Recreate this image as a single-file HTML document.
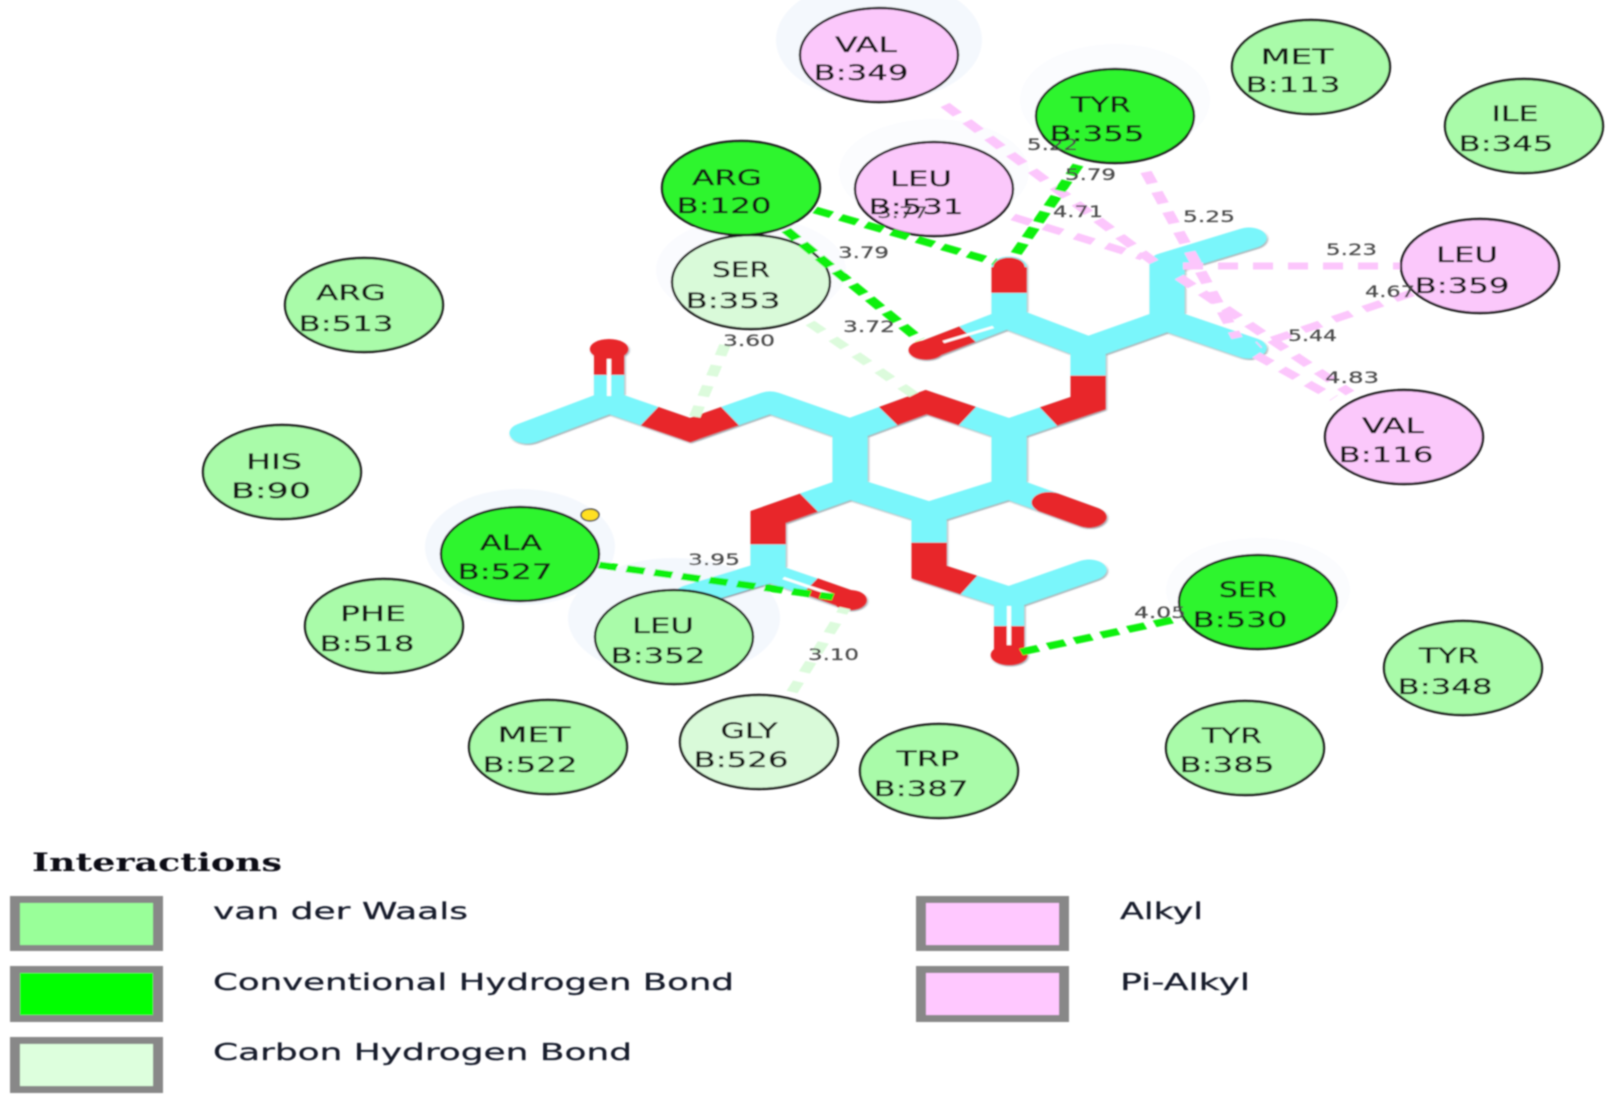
<!DOCTYPE html>
<html><head><meta charset="utf-8"><style>
html,body{margin:0;padding:0;background:#fff}
svg{display:block}
.l{font-family:"DejaVu Sans","Liberation Sans",sans-serif;font-size:21.5px;fill:#141414;stroke:#141414;stroke-width:.3;text-anchor:middle}
.d{font-family:"DejaVu Sans","Liberation Sans",sans-serif;font-size:16px;fill:#4a4a4a;stroke:#4a4a4a;stroke-width:.2}
.t{font-family:"DejaVu Sans","Liberation Sans",sans-serif;font-size:23px;fill:#141a2a;stroke:#141a2a;stroke-width:.25}
.vdw{fill:#a9fba9;stroke:#1a1a1a;stroke-width:2.4}
.hb{fill:#2df52d;stroke:#1a1a1a;stroke-width:2.4}
.ch{fill:#d9fad9;stroke:#1a1a1a;stroke-width:2.4}
.al{fill:#fbc8fb;stroke:#1a1a1a;stroke-width:2.4}
.g{stroke:#0cf00c;stroke-width:7;stroke-dasharray:11 6;fill:none}
.p{stroke:#fcc6fc;stroke-width:7;stroke-dasharray:12 9;fill:none}
.c{stroke:#dcfbdc;stroke-width:7;stroke-dasharray:11 10;fill:none}
</style></head><body>
<svg xmlns="http://www.w3.org/2000/svg" width="1609" height="1102" viewBox="0 0 1609 1102">
<defs>
<filter id="b" x="-2%" y="-2%" width="104%" height="104%"><feGaussianBlur stdDeviation="0.7"/></filter>
<filter id="s" x="-5%" y="-5%" width="110%" height="110%"><feDropShadow dx="0.6" dy="1.2" stdDeviation="0.6" flood-color="#203040" flood-opacity="0.55"/></filter>
</defs>
<rect width="1609" height="1102" fill="#fff"/>
<g filter="url(#b)">
<!-- halos -->
<g fill="#f4f8fd">
<ellipse cx="879" cy="40" rx="103" ry="62"/>
<ellipse cx="520" cy="547" rx="95" ry="58"/>
<ellipse cx="674" cy="618" rx="106" ry="60"/>
<ellipse cx="1115" cy="100" rx="95" ry="56" fill="#fbfcfe"/>
<ellipse cx="934" cy="172" rx="95" ry="53" fill="#fbfcfe"/>
<ellipse cx="751" cy="270" rx="95" ry="53" fill="#fafbfe"/>
<ellipse cx="1258" cy="590" rx="92" ry="52" fill="#fbfcfe"/>
</g>
<!-- molecule -->
<g transform="scale(1.6667,1)" fill="none" stroke-width="21" stroke-linecap="round" stroke-linejoin="round" filter="url(#s)">
<g stroke="#7af6fb">
<path d="M316.2 433L365.4 402L414 430L462 402L510 430L555.6 402L605.4 430L652.8 403L652.8 348L605.4 318L605.4 267"/>
<path d="M365.4 402L365.4 352" stroke-width="18"/>
<path d="M605.4 318L555.6 350" stroke-width="18"/>
<path d="M652.8 348L700.2 320L700.2 263L749.4 238"/>
<path d="M700.2 320L749.4 348"/>
<path d="M510 430L510 488L557.4 513L605.4 488L605.4 430"/>
<path d="M605.4 488L653.4 517"/>
<path d="M510 488L460.8 517L460.8 572L415.2 595"/>
<path d="M460.8 572L510 600" stroke-width="18"/>
<path d="M557.4 513L557.4 572L605.4 598L653.4 570"/>
<path d="M605.4 598L605.4 655" stroke-width="18"/>
</g>
<g stroke="#e8282a" stroke-linecap="butt" stroke-linejoin="miter">
<path d="M389.7 416L414 430L438 416"/>
<path d="M532.8 416L555.6 402L580.5 416"/>
<path d="M629 416.5L652.8 403L652.8 375.5"/>
<path d="M485.4 502.5L460.8 517L460.8 544.5"/>
<path d="M557.4 542.5L557.4 572L581.4 585"/>
</g>
<g stroke="#e8282a">
<path d="M629.4 502.5L653.4 517"/>
<path d="M605.4 293L605.4 267" stroke-linecap="butt"/>
<path d="M605.4 293L605.4 267" stroke-width="19"/>
<path d="M580.5 334L555.6 350" stroke-width="18" stroke-linecap="butt"/>
<path d="M365.4 375L365.4 352" stroke-width="18" stroke-linecap="butt"/>
<path d="M486 586L510 600" stroke-width="18" stroke-linecap="butt"/>
<path d="M605.4 626L605.4 655" stroke-width="18" stroke-linecap="butt"/>
</g>
<g stroke="#7af6fb" stroke-linecap="butt">
<path d="M605.4 318L605.4 293"/>
</g>
<g stroke="#fff" stroke-width="2.6" stroke-linecap="butt">
<path d="M365.4 396L365.4 358"/>
<path d="M605.4 606L605.4 648"/>
<path d="M566 342L596 327"/>
<path d="M470 578L500 595"/>
</g>
<g fill="#e8282a" stroke="none">
<ellipse cx="365.4" cy="349" rx="11.5" ry="10"/>
<ellipse cx="555.6" cy="350" rx="10.5" ry="9.5"/>
<ellipse cx="510" cy="600" rx="10" ry="10"/>
<ellipse cx="605.4" cy="655" rx="11" ry="10"/>
</g>
</g>
<!-- residues -->
<ellipse class="al" cx="879" cy="55" rx="79" ry="47"/>
<ellipse class="hb" cx="1115" cy="116" rx="79" ry="47"/>
<ellipse class="vdw" cx="1311" cy="67" rx="79" ry="47"/>
<ellipse class="vdw" cx="1524" cy="126" rx="79" ry="47"/>
<ellipse class="al" cx="934" cy="189" rx="79" ry="47"/>
<ellipse class="ch" cx="751" cy="282" rx="79" ry="47"/>
<ellipse class="hb" cx="741" cy="188" rx="79" ry="47"/>
<ellipse class="vdw" cx="364" cy="305" rx="79" ry="47"/>
<ellipse class="vdw" cx="282" cy="472" rx="79" ry="47"/>
<ellipse class="hb" cx="520" cy="554" rx="79" ry="47"/>
<ellipse class="vdw" cx="384" cy="626" rx="79" ry="47"/>
<ellipse class="vdw" cx="674" cy="637" rx="79" ry="47"/>
<ellipse class="vdw" cx="548" cy="747" rx="79" ry="47"/>
<ellipse class="ch" cx="759" cy="742" rx="79" ry="47"/>
<ellipse class="vdw" cx="939" cy="771" rx="79" ry="47"/>
<ellipse class="vdw" cx="1245" cy="748" rx="79" ry="47"/>
<ellipse class="vdw" cx="1463" cy="668" rx="79" ry="47"/>
<ellipse class="hb" cx="1258" cy="602" rx="79" ry="47"/>
<ellipse class="al" cx="1480" cy="266" rx="79" ry="47"/>
<ellipse class="al" cx="1404" cy="437" rx="79" ry="47"/>
<ellipse cx="590" cy="515" rx="9" ry="6" fill="#ffe020" stroke="#444" stroke-width="1.5"/>
<!-- connectors (stretched horizontally like the source) -->
<g transform="scale(1.6667,1)">
<path class="p" d="M567 105L692.4 262"/>
<path class="p" d="M607.8 217L685.8 257"/>
<path class="p" d="M687.6 172L742.2 338"/>
<path class="p" d="M709.8 266L840 266"/>
<path class="p" d="M847.2 293L754.8 345"/>
<path class="p" d="M753.6 355L800.4 398"/>
<path class="p" d="M707.4 277L810 393"/>
<path class="c" d="M435 345L415.2 423"/>
<path class="c" d="M486 323L550.2 397"/>
<path class="c" d="M475.2 692L507 608"/>
<path class="g" d="M489 210L597 262"/>
<path class="g" d="M471.6 230L552 340"/>
<path class="g" d="M646.8 165L607.8 258"/>
<path class="g" d="M359.4 565L499.8 597"/>
<path class="g" d="M612.6 652L709.2 618"/>
</g>
<!-- distance labels -->
<text class="d" x="838" y="258" textLength="51" lengthAdjust="spacingAndGlyphs">3.79</text>
<text class="d" x="843" y="332" textLength="52" lengthAdjust="spacingAndGlyphs">3.72</text>
<text class="d" x="723" y="346" textLength="52" lengthAdjust="spacingAndGlyphs">3.60</text>
<text class="d" x="1027" y="150" textLength="51" lengthAdjust="spacingAndGlyphs">5.22</text>
<text class="d" x="1065" y="180" textLength="51" lengthAdjust="spacingAndGlyphs">5.79</text>
<text class="d" x="1053" y="217" textLength="50" lengthAdjust="spacingAndGlyphs">4.71</text>
<text class="d" x="877" y="218" textLength="51" lengthAdjust="spacingAndGlyphs">3.77</text>
<text class="d" x="1183" y="222" textLength="52" lengthAdjust="spacingAndGlyphs">5.25</text>
<text class="d" x="1326" y="255" textLength="51" lengthAdjust="spacingAndGlyphs">5.23</text>
<text class="d" x="1365" y="297" textLength="50" lengthAdjust="spacingAndGlyphs">4.67</text>
<text class="d" x="1288" y="341" textLength="49" lengthAdjust="spacingAndGlyphs">5.44</text>
<text class="d" x="1325" y="383" textLength="54" lengthAdjust="spacingAndGlyphs">4.83</text>
<text class="d" x="688" y="565" textLength="52" lengthAdjust="spacingAndGlyphs">3.95</text>
<text class="d" x="808" y="660" textLength="51" lengthAdjust="spacingAndGlyphs">3.10</text>
<text class="d" x="1134" y="618" textLength="52" lengthAdjust="spacingAndGlyphs">4.05</text>
<!-- residue labels -->
<text class="l" x="866" y="52" textLength="62" lengthAdjust="spacingAndGlyphs">VAL</text><text class="l" x="861" y="80" textLength="95" lengthAdjust="spacingAndGlyphs">B:349</text>
<text class="l" x="1101" y="112" textLength="60" lengthAdjust="spacingAndGlyphs">TYR</text><text class="l" x="1097" y="141" textLength="95" lengthAdjust="spacingAndGlyphs">B:355</text>
<text class="l" x="1297" y="64" textLength="73" lengthAdjust="spacingAndGlyphs">MET</text><text class="l" x="1293" y="92" textLength="95" lengthAdjust="spacingAndGlyphs">B:113</text>
<text class="l" x="1515" y="121" textLength="47" lengthAdjust="spacingAndGlyphs">ILE</text><text class="l" x="1506" y="151" textLength="95" lengthAdjust="spacingAndGlyphs">B:345</text>
<text class="l" x="727" y="185" textLength="70" lengthAdjust="spacingAndGlyphs">ARG</text><text class="l" x="724" y="213" textLength="95" lengthAdjust="spacingAndGlyphs">B:120</text>
<text class="l" x="921" y="186" textLength="62" lengthAdjust="spacingAndGlyphs">LEU</text><text class="l" x="916" y="214" textLength="95" lengthAdjust="spacingAndGlyphs">B:531</text>
<text class="l" x="741" y="277" textLength="58" lengthAdjust="spacingAndGlyphs">SER</text><text class="l" x="733" y="308" textLength="95" lengthAdjust="spacingAndGlyphs">B:353</text>
<text class="l" x="351" y="300" textLength="70" lengthAdjust="spacingAndGlyphs">ARG</text><text class="l" x="346" y="331" textLength="95" lengthAdjust="spacingAndGlyphs">B:513</text>
<text class="l" x="274" y="469" textLength="56" lengthAdjust="spacingAndGlyphs">HIS</text><text class="l" x="271" y="498" textLength="80" lengthAdjust="spacingAndGlyphs">B:90</text>
<text class="l" x="511" y="550" textLength="62" lengthAdjust="spacingAndGlyphs">ALA</text><text class="l" x="505" y="579" textLength="95" lengthAdjust="spacingAndGlyphs">B:527</text>
<text class="l" x="373" y="621" textLength="66" lengthAdjust="spacingAndGlyphs">PHE</text><text class="l" x="367" y="651" textLength="95" lengthAdjust="spacingAndGlyphs">B:518</text>
<text class="l" x="663" y="633" textLength="62" lengthAdjust="spacingAndGlyphs">LEU</text><text class="l" x="658" y="663" textLength="95" lengthAdjust="spacingAndGlyphs">B:352</text>
<text class="l" x="534" y="742" textLength="73" lengthAdjust="spacingAndGlyphs">MET</text><text class="l" x="530" y="772" textLength="95" lengthAdjust="spacingAndGlyphs">B:522</text>
<text class="l" x="749" y="738" textLength="57" lengthAdjust="spacingAndGlyphs">GLY</text><text class="l" x="741" y="767" textLength="95" lengthAdjust="spacingAndGlyphs">B:526</text>
<text class="l" x="928" y="766" textLength="63" lengthAdjust="spacingAndGlyphs">TRP</text><text class="l" x="921" y="796" textLength="95" lengthAdjust="spacingAndGlyphs">B:387</text>
<text class="l" x="1232" y="743" textLength="60" lengthAdjust="spacingAndGlyphs">TYR</text><text class="l" x="1227" y="772" textLength="95" lengthAdjust="spacingAndGlyphs">B:385</text>
<text class="l" x="1449" y="663" textLength="60" lengthAdjust="spacingAndGlyphs">TYR</text><text class="l" x="1445" y="694" textLength="95" lengthAdjust="spacingAndGlyphs">B:348</text>
<text class="l" x="1248" y="597" textLength="58" lengthAdjust="spacingAndGlyphs">SER</text><text class="l" x="1240" y="627" textLength="95" lengthAdjust="spacingAndGlyphs">B:530</text>
<text class="l" x="1467" y="262" textLength="62" lengthAdjust="spacingAndGlyphs">LEU</text><text class="l" x="1462" y="293" textLength="95" lengthAdjust="spacingAndGlyphs">B:359</text>
<text class="l" x="1393" y="433" textLength="62" lengthAdjust="spacingAndGlyphs">VAL</text><text class="l" x="1386" y="462" textLength="95" lengthAdjust="spacingAndGlyphs">B:116</text>
<!-- legend -->
<text x="32" y="871" font-family="'DejaVu Serif','Liberation Serif',serif" font-weight="bold" font-size="25" fill="#0a0a14" textLength="250" lengthAdjust="spacingAndGlyphs">Interactions</text>
<g fill="#888">
<rect x="10" y="896" width="153" height="55"/>
<rect x="10" y="966" width="153" height="56"/>
<rect x="10" y="1037" width="153" height="56"/>
<rect x="916" y="896" width="153" height="55"/>
<rect x="916" y="966" width="153" height="56"/>
</g>
<rect x="20" y="903" width="133" height="42" fill="#99ff99"/>
<rect x="20" y="973" width="133" height="42" fill="#00ff00"/>
<rect x="20" y="1044" width="133" height="42" fill="#ddffdd"/>
<rect x="926" y="903" width="133" height="42" fill="#ffc8ff"/>
<rect x="926" y="973" width="133" height="42" fill="#ffc8ff"/>
<text class="t" x="213" y="919" textLength="255" lengthAdjust="spacingAndGlyphs">van der Waals</text>
<text class="t" x="213" y="990" textLength="521" lengthAdjust="spacingAndGlyphs">Conventional Hydrogen Bond</text>
<text class="t" x="213" y="1060" textLength="419" lengthAdjust="spacingAndGlyphs">Carbon Hydrogen Bond</text>
<text class="t" x="1120" y="919" textLength="83" lengthAdjust="spacingAndGlyphs">Alkyl</text>
<text class="t" x="1120" y="990" textLength="130" lengthAdjust="spacingAndGlyphs">Pi-Alkyl</text>
</g>
</svg>
</body></html>
